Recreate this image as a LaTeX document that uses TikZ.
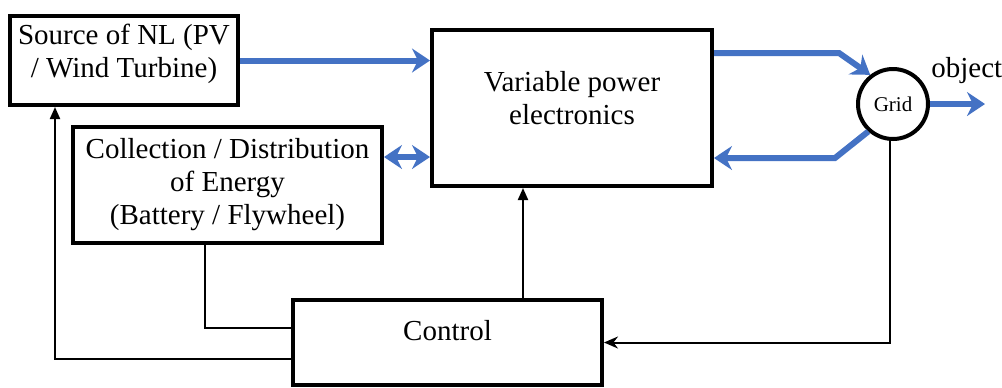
\documentclass[tikz,border=0pt]{standalone}
\usepackage{fontspec}
\setmainfont{Liberation Serif}
\usetikzlibrary{arrows.meta, calc}
\definecolor{flowblue}{RGB}{68,114,196}

\begin{document}
\begin{tikzpicture}[
    x=0.5pt, y=-0.5pt,
    unitbox/.style={draw, rectangle, line width=2pt, align=center, inner sep=2pt, font=\fontsize{14.5}{16.5}\selectfont},
    flow/.style={line width=3pt, draw=flowblue, >={Stealth[length=9pt, width=12pt, inset=3pt]}},
    sig/.style={line width=1pt, >={Triangle[length=6pt, width=5pt]}}
]
    \useasboundingbox (0,0) rectangle (1002,387);

    \node[unitbox, minimum width=114pt, minimum height=44.5pt, text depth=10pt] (src) at (124,60.5) {Source of NL (PV\\/ Wind Turbine)};
    \node[unitbox, minimum width=154.5pt, minimum height=58pt] (coll) at (227.5,185) {Collection / Distribution\\of Energy\\(Battery / Flywheel)};
    \node[unitbox, minimum width=140pt, minimum height=78pt, text depth=10pt] (vpe) at (572,108) {Variable power\\electronics};
    \node[unitbox, minimum width=154.5pt, minimum height=42.5pt, text depth=12.5pt] (ctrl) at (447.5,342.5) {Control};
    \node[circle, draw, line width=2pt, minimum size=35pt, inner sep=0pt, font=\fontsize{10.5}{12}\selectfont] (grid) at (893,104) {Grid};
    \node[anchor=base west, inner sep=0pt, font=\fontsize{14.5}{16.5}\selectfont] (obj) at (931,77) {object};

    % power flow
    \draw[flow, ->] (src.east) -- (src.east -| vpe.west);
    \draw[flow, <->] ([yshift=14pt]coll.east) -- ([yshift=14pt]coll.east -| vpe.west);
    \draw[flow, ->] ([yshift=27.5pt]vpe.east) -- ++(125,0) -- (grid.128);
    \draw[flow, <-] ([yshift=-25pt]vpe.east) -- ++(121,0) -- (grid.228);
    \draw[flow, ->] (grid.east) -- ++(55,0);

    % control signals
    \draw[sig, ->] ([xshift=37.75pt]ctrl.north) coordinate (c1) -- (c1 |- vpe.south);
    \draw[sig, -{Stealth[length=7pt, width=6pt]}] (grid.265) |- (ctrl.east);
    \draw[sig] ([xshift=-11.25pt]coll.south) |- ([yshift=7.25pt]ctrl.west);
    \draw[sig, ->] ([yshift=-8.25pt]ctrl.west) -| ([xshift=-34.5pt]src.south);
\end{tikzpicture}
\end{document}
